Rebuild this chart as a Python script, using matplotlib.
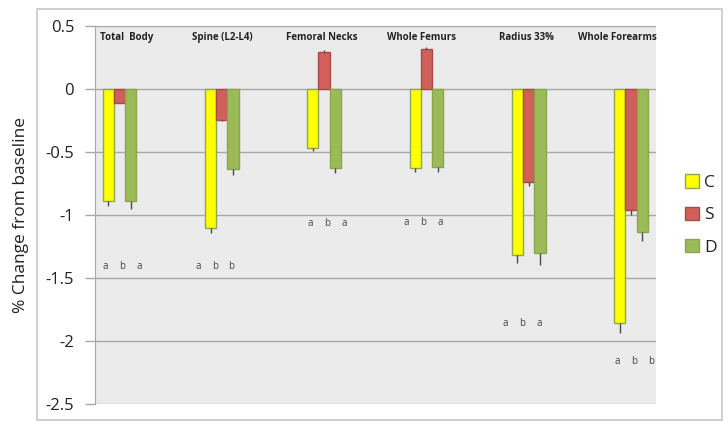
"""
Bone density change by site: C / S / D groups, % change from baseline.
"""

import matplotlib

matplotlib.use("Agg")

import matplotlib.pyplot as plt  # noqa: E402
import numpy as np  # noqa: E402
from matplotlib.patches import Rectangle  # noqa: E402

plt.rcParams["font.family"] = ["Open Sans", "DejaVu Sans"]

SITES = ["Total  Body", "Spine (L2-L4)", "Femoral Necks",
         "Whole Femurs", "Radius 33%", "Whole Forearms"]
SERIES = ["C", "S", "D"]

C_VALS = [-0.89, -1.10, -0.47, -0.63, -1.32, -1.855]
S_VALS = [-0.11, -0.245, 0.295, 0.32, -0.735, -0.96]
D_VALS = [-0.89, -0.635, -0.625, -0.62, -1.30, -1.135]

C_ERR = [0.04, 0.04, 0.02, 0.03, 0.06, 0.085]
S_ERR = [0.0, 0.01, 0.015, 0.01, 0.035, 0.04]
D_ERR = [0.06, 0.045, 0.045, 0.04, 0.10, 0.075]

# significance letters under each group
LETTERS = [["a", "b", "a"], ["a", "b", "b"], ["a", "b", "a"],
           ["a", "b", "a"], ["a", "b", "a"], ["a", "b", "b"]]
LETTER_Y = [-1.41, -1.41, -1.07, -1.06, -1.86, -2.16]
LETTER_X = [0.03, 0.93, 2.03, 2.97, 3.94, 5.03]
LABEL_X = [0.07, 1.0, 1.98, 2.95, 3.98, 4.87]

FILL = ["#FFFF00", "#D0605A", "#9BBB59"]
EDGE = ["#8FA84F", "#A84A46", "#8AA54E"]
PLOT_BG = "#EBEBEB"
GRID = "#A8A8A8"
TEXT = "#222222"

fig = plt.figure(figsize=(7.28, 4.32), dpi=100, facecolor="white")

# outer chart frame
fig.patches.append(Rectangle((37 / 728, 12 / 432), 685 / 728, 411 / 432,
                             transform=fig.transFigure, fill=False,
                             edgecolor="#C8C8C8", linewidth=1.2))

ax = fig.add_axes([95 / 728, 28 / 432, 561 / 728, 378 / 432])
ax.set_facecolor(PLOT_BG)

x = np.arange(len(SITES))
width = 0.11
vals = [C_VALS, S_VALS, D_VALS]
errs = [C_ERR, S_ERR, D_ERR]

for i, (v, e) in enumerate(zip(vals, errs)):
    v = np.array(v)
    e = np.array(e)
    xs = x + (i - 1) * width
    ax.bar(xs, v, width=width, color=FILL[i], edgecolor=EDGE[i],
           linewidth=1.0, label=SERIES[i], zorder=3)
    lower = np.where(v < 0, e, 0)
    upper = np.where(v >= 0, e, 0)
    ax.errorbar(xs, v, yerr=[lower, upper], fmt="none", ecolor="#4A4A4A",
                elinewidth=1.0, capsize=0, zorder=4)

for lx, ly, letters in zip(LETTER_X, LETTER_Y, LETTERS):
    for j, t in enumerate(letters):
        ax.text(lx + (j - 1) * 0.165, ly, t, ha="center", va="center",
                fontsize=7, color="#444444")

for lx, name in zip(LABEL_X, SITES):
    ax.text(lx, 0.405, name, ha="center", va="center", fontsize=7,
            fontweight="bold", color=TEXT, clip_on=False)

ax.set_xlim(-0.24, 5.245)
ax.set_ylim(-2.5, 0.5)
ax.set_yticks([0.5, 0, -0.5, -1, -1.5, -2, -2.5])
ax.set_yticklabels(["0.5", "0", "-0.5", "-1", "-1.5", "-2", "-2.5"])
ax.set_xticks([])
ax.yaxis.grid(True, color=GRID, linewidth=1.0, zorder=0)
ax.set_axisbelow(True)
ax.tick_params(axis="y", colors=GRID, labelcolor=TEXT, labelsize=12,
               length=7, width=1.0, pad=8)

for side in ["top", "right", "bottom"]:
    ax.spines[side].set_visible(False)
ax.spines["left"].set_color(GRID)

ax.set_ylabel("% Change from baseline", fontsize=12.5, color=TEXT,
              labelpad=12)

leg = ax.legend(loc="center left", bbox_to_anchor=(676 / 728, 217 / 432),
                bbox_transform=fig.transFigure, frameon=False, fontsize=12.5,
                handlelength=0.8, handleheight=0.8, handletextpad=0.3,
                labelspacing=0.9, borderpad=0)
for t in leg.get_texts():
    t.set_color(TEXT)

fig.savefig("out.png", dpi=100, facecolor="white")
plt.close(fig)
